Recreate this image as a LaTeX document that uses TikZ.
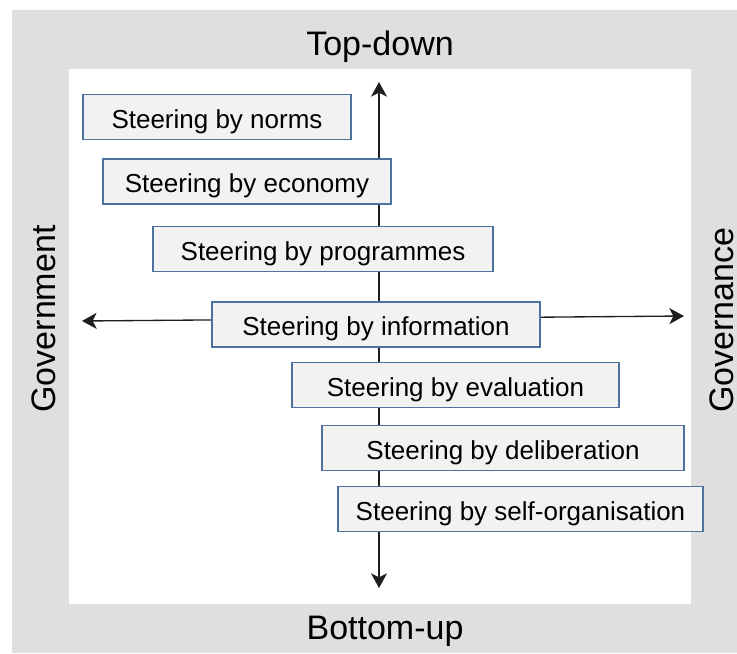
\documentclass[tikz,border=0pt]{standalone}
\usepackage{fontspec}
\setmainfont{Liberation Sans}
\usetikzlibrary{arrows.meta}
\definecolor{bggray}{RGB}{223,223,223}
\definecolor{boxfill}{RGB}{242,242,242}
\definecolor{boxline}{RGB}{78,114,160}
\definecolor{axisline}{RGB}{30,30,30}
\tikzset{
  stbox/.style={draw=boxline, fill=boxfill, line width=1.1pt, inner sep=0pt,
    minimum height=33.75pt, text height=16.5pt, text depth=0pt,
    font=\fontsize{19.5}{22}\selectfont, text=black},
  axislabel/.style={font=\fontsize{25.5}{28}\selectfont, text=black, inner sep=0pt},
  axisarrow/.style={draw=axisline, line width=1pt,
    {Stealth[length=11pt,width=12pt,inset=3pt]}-{Stealth[length=11pt,width=12pt,inset=3pt]}}
}
\begin{document}
\begin{tikzpicture}[x=0.75pt,y=-0.75pt]
\useasboundingbox (0,0) rectangle (737,653);
\fill[bggray] (12,10) rectangle (737,653);
\fill[white] (69,69) rectangle (691,604);
% axes
\coordinate (top) at (379,82);
\coordinate (bottom) at (379,588);
\coordinate (left) at (82,321);
\coordinate (right) at (684,316);
\draw[axisarrow] (bottom) -- (top);
\draw[axisarrow] (left) -- (right);
% boxes
\node[stbox, minimum width=201pt] (norms) at (217,117) {Steering by norms};
\node[stbox, minimum width=216pt] (economy) at (247,181.5) {Steering by economy};
\node[stbox, minimum width=255pt] (programmes) at (323,249) {Steering by programmes};
\node[stbox, minimum width=246pt] (information) at (376,324.5) {Steering by information};
\node[stbox, minimum width=245.25pt] (evaluation) at (455.5,385) {Steering by evaluation};
\node[stbox, minimum width=271.5pt] (deliberation) at (503,448) {Steering by deliberation};
\node[stbox, minimum width=273.75pt] (selforg) at (520.5,509) {Steering by self-organisation};
% axis labels
\node[axislabel, anchor=base] (topdown) at (380,55) {Top-down};
\node[axislabel, anchor=base] (bottomup) at (385,639) {Bottom-up};
\node[axislabel, anchor=base, rotate=90] (government) at (55,319) {Government};
\node[axislabel, anchor=base, rotate=90] (governance) at (733,320) {Governance};
\end{tikzpicture}
\end{document}
